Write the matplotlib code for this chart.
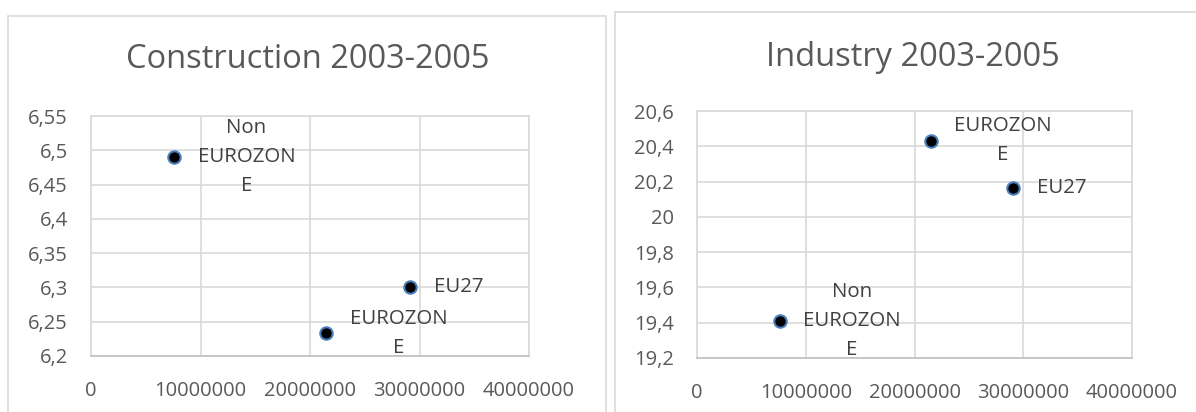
import matplotlib.pyplot as plt
from matplotlib.patches import Rectangle
from matplotlib.ticker import FuncFormatter

labels = ["Non\nEUROZON\nE", "EU27", "EUROZON\nE"]

constr_x = [7.6e6, 29.1e6, 21.5e6]
constr_y = [6.49, 6.30, 6.233]

indus_x = [7.6e6, 29.1e6, 21.5e6]
indus_y = [19.41, 20.166, 20.432]

x_ticks = [0, 10000000, 20000000, 30000000, 40000000]
constr_ticks = [6.2, 6.25, 6.3, 6.35, 6.4, 6.45, 6.5, 6.55]
indus_ticks = [19.2, 19.4, 19.6, 19.8, 20.0, 20.2, 20.4, 20.6]

W, H = 1196, 412
txt = "#595959"
grid = "#d9d9d9"
plt.rcParams['font.family'] = ['Open Sans', 'DejaVu Sans']

fig = plt.figure(figsize=(W / 100, H / 100), dpi=100)


def px_box(x0, y0, x1, y1):
    # pixel box (top-left origin) -> figure fraction
    return [x0 / W, 1 - y1 / H, (x1 - x0) / W, (y1 - y0) / H]


def comma(v, pos):
    return ("%g" % v).replace(".", ",")


# chart frames
fig.patches.append(Rectangle((8 / W, -0.05), (606 - 8) / W, 1.05 - 16 / H,
                             transform=fig.transFigure, fill=False, ec=grid, lw=1.2))
fig.patches.append(Rectangle((615 / W, -0.05), 1.0, 1.05 - 12 / H,
                             transform=fig.transFigure, fill=False, ec=grid, lw=1.2))


def panel(box, xs, ys, yticks, title, title_xy):
    ax = fig.add_axes(px_box(*box))
    ax.scatter(xs, ys, s=80, c="black", edgecolors="#4a7ebb", linewidths=1.5, zorder=3)
    ax.set_xlim(x_ticks[0], x_ticks[-1])
    ax.set_ylim(yticks[0], yticks[-1])
    ax.set_xticks(x_ticks)
    ax.set_yticks(yticks)
    ax.xaxis.set_major_formatter(FuncFormatter(lambda v, p: "%d" % v))
    ax.yaxis.set_major_formatter(FuncFormatter(comma))
    ax.grid(True, color=grid, lw=1.2)
    ax.set_axisbelow(True)
    for s in ax.spines.values():
        s.set_color(grid)
        s.set_linewidth(1.2)
    ax.spines['bottom'].set_color("#bfbfbf")
    ax.tick_params(length=0, labelsize=14.5, colors=txt)
    ax.tick_params(axis="x", pad=18)
    ax.tick_params(axis="y", pad=16.5)
    for lab, x, y in zip(labels, xs, ys):
        dx = 52 if "\n" in lab else 35
        ax.annotate(lab, (x, y), xytext=(dx, 0), textcoords="offset points",
                    ha="center", va="center", fontsize=14.7, color="#404040",
                    linespacing=1.6)
    fig.text(title_xy[0] / W, 1 - title_xy[1] / H, title, ha="center", va="center",
             fontsize=23.5, color=txt)
    return ax


panel((91, 116, 529, 356), constr_x, constr_y, constr_ticks,
      "Construction 2003-2005", (308, 60))
panel((697, 111, 1132, 358), indus_x, indus_y, indus_ticks,
      "Industry 2003-2005", (913, 57))

fig.savefig("out.png", dpi=100)
